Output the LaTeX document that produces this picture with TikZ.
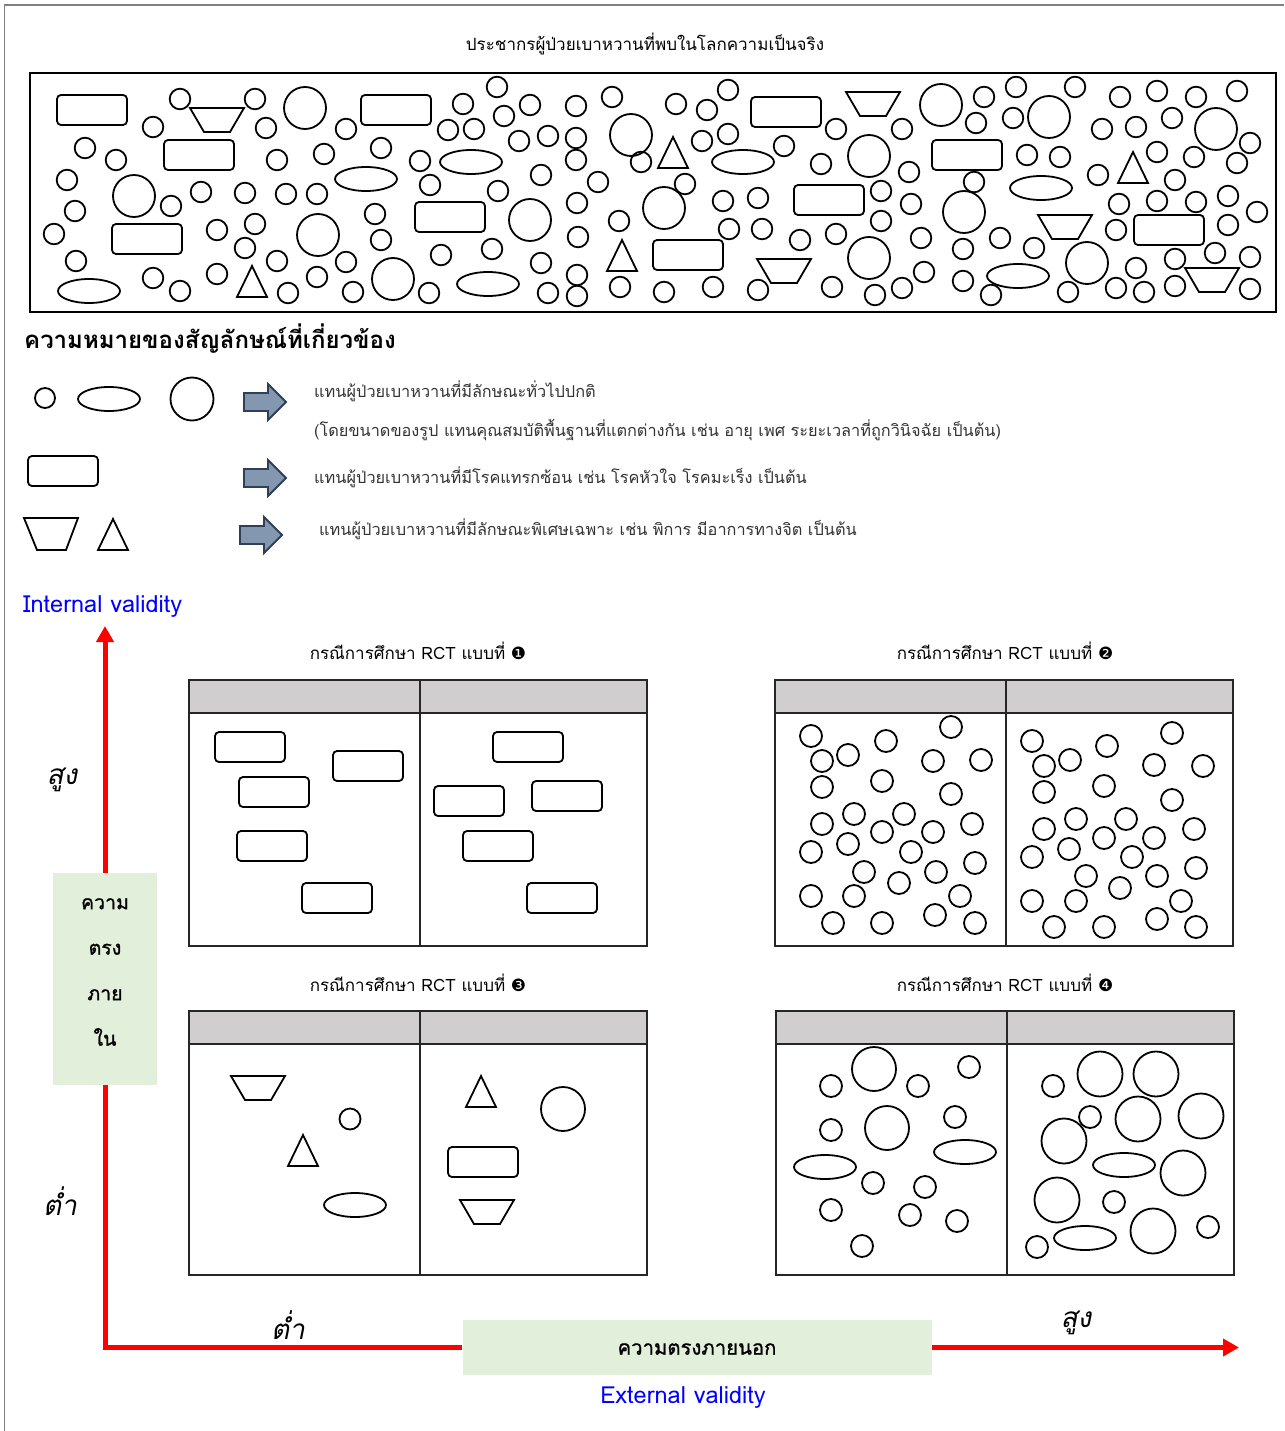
\documentclass[tikz,border=0pt]{standalone}
\usepackage{fontspec}
\usetikzlibrary{arrows.meta}
\newfontfamily\thai[Script=Thai]{Loma}
\newfontfamily\thaiheavy[Script=Thai,FakeBold=1]{Loma}
\newfontfamily\thaiobl[Script=Thai,FakeSlant=0.2]{Loma}
\newfontfamily\dingfont{DejaVu Sans}
\definecolor{hdrgray}{HTML}{D0CECE}
\definecolor{boxgreen}{HTML}{E2EFDA}
\definecolor{arrowfill}{HTML}{8497B0}
\definecolor{arrowline}{HTML}{2F3F55}
\definecolor{axisred}{HTML}{FF0000}

% shape helpers (centre or top coordinates)
\newcommand\circs[2]{\foreach \cx/\cy in {#2} \draw[shp] (\cx,\cy) circle[radius=#1];}
\newcommand\ells[1]{\foreach \cx/\cy in {#1} \draw[shp] (\cx,\cy) ellipse[x radius=31,y radius=12];}
\newcommand\rects[1]{\foreach \cx/\cy in {#1} \draw[shp,rounded corners=4] (\cx-35,\cy-15) rectangle (\cx+35,\cy+15);}
\newcommand\traps[1]{\foreach \cx/\cy in {#1} \draw[shp] (\cx-27,\cy) -- (\cx+27,\cy) -- (\cx+13,\cy+24) -- (\cx-13,\cy+24) -- cycle;}
\newcommand\tris[1]{\foreach \cx/\cy in {#1} \draw[shp] (\cx,\cy) -- (\cx+15,\cy+31) -- (\cx-15,\cy+31) -- cycle;}
\newcommand\blockarrow[2]{\draw[barrow] (#1,#2-9) -- (#1+24,#2-9) -- (#1+24,#2-18) -- (#1+42,#2) -- (#1+24,#2+18) -- (#1+24,#2+9) -- (#1,#2+9) -- cycle;}
% two-arm RCT table: left x, top y, total height
\newcommand\rcttable[3]{%
  \fill[hdrgray] (#1,#2) rectangle (#1+458,#2+33);
  \draw[tbl] (#1,#2) rectangle (#1+458,#2+#3);
  \draw[tbl] (#1+231,#2) -- (#1+231,#2+#3);
  \draw[tbl,line width=2.2] (#1,#2+33) -- (#1+458,#2+33);}

\begin{document}
\begin{tikzpicture}[x=1pt,y=-1pt,
  shp/.style={draw=black,line width=1.8},
  tbl/.style={draw=black!85,line width=1.4},
  barrow/.style={fill=arrowfill,draw=arrowline,line width=1.8,line join=miter},
  redaxis/.style={draw=axisred,line width=5,line join=miter},
  plain/.style={inner sep=0pt,font=\thai\fontsize{17}{20}\selectfont},
  legtxt/.style={inner sep=0pt,anchor=west,text=black!80,font=\thai\fontsize{16.3}{20}\selectfont},
  lowhigh/.style={inner sep=0pt,font=\thaiobl\fontsize{28}{32}\selectfont},
  bluetxt/.style={inner sep=0pt,text=blue,font=\thai\fontsize{23.5}{28}\selectfont},
  greenbox/.style={fill=boxgreen,draw=none,inner sep=0pt}]
\useasboundingbox (0,0) rectangle (1284,1431);
\fill[white] (0,0) rectangle (1284,1431);
\draw[gray,line width=1.2] (4.5,1431) -- (4.5,5) -- (1284,5);

% ---------- population ----------
\node[plain] (poptitle) at (645,44) {ประชากรผู้ป่วยเบาหวานที่พบในโลกความเป็นจริง};
\draw[line width=2.5] (30,73) rectangle (1276,312);
\circs{10.3}{180/99,255/99,497/87,463/104,530/105,576/106,612/97,153/127,266/128,346/129,448/130,474/129,504/116,519/141,548/136,576/138,85/148,116/160,277/160,324/154,381/148,420/161,576/160,67/180,171/206,201/192,245/193,286/194,317/194,430/185,541/175,498/191,577/203,598/182,75/211,54/234,217/230,255/224,375/214,381/240,578/237,619/221,76/261,245/248,277/261,346/262,441/255,492/249,541/263,577/275,577/296,620/287,153/278,180/291,217/274,288/293,317/277,353/292,429/293,548/293,641/162}
\circs{10.3}{676/104,707/110,728/90,984/97,1016/87,1075/87,1120/97,1157/91,1196/97,1237/91,1013/118,976/123,836/129,902/129,1102/129,1136/127,1172/118,1250/143,702/141,728/134,784/146,821/164,909/172,1027/155,1060/157,1157/152,1194/157,1237/163,1098/175,1175/180,974/182,685/184,723/201,758/198,881/191,911/204,1119/204,1157/201,1196/202,1228/196,1257/212,729/229,762/229,881/221,1116/230,1228/225,800/240,836/234,921/238,1000/238,1034/248,963/249,1175/259,1215/253,1250/257,924/272,963/281,1136/268,664/292,713/287,758/290,832/287,875/295,902/288,991/295,1068/292,1116/288,1144/292,1175/286,1250/289}
\circs{21}{305/108,631/135,134/196,318/235,530/220,393/279,941/105,1049/117,1216/129,869/156,664/208,964/212,869/258,1087/263}
\ells{471/162,366/179,89/291,488/284,743/162,1041/188,1018/276}
\rects{92/110,396/110,199/155,450/217,147/239,786/112,967/155,829/200,688/255,1169/230}
\traps{217/108,873/92,1065/215,784/259,1212/268}
\tris{252/266,622/240,673/137,1133/152}

% ---------- legend ----------
\node[inner sep=0pt,anchor=west,font=\thai\bfseries\fontsize{24}{28}\selectfont] (leghead) at (24,339) {ความหมายของสัญลักษณ์ที่เกี่ยวข้อง};
\circs{10}{45/398}
\ells{109/399}
\circs{21.5}{192/399}
\rects{63/471}
\draw[shp] (24,518) -- (78,518) -- (66,550) -- (37,550) -- cycle;
\draw[shp] (113,519) -- (128,550) -- (98,550) -- cycle;
\blockarrow{244}{402}
\blockarrow{244}{478}
\blockarrow{240}{535}
\node[legtxt] (leg1) at (314,391) {แทนผู้ป่วยเบาหวานที่มีลักษณะทั่วไปปกติ};
\node[legtxt] (leg1b) at (314,430) {(โดยขนาดของรูป แทนคุณสมบัติพื้นฐานที่แตกต่างกัน เช่น อายุ เพศ ระยะเวลาที่ถูกวินิจฉัย เป็นต้น)};
\node[legtxt] (leg2) at (314,477) {แทนผู้ป่วยเบาหวานที่มีโรคแทรกซ้อน เช่น โรคหัวใจ โรคมะเร็ง เป็นต้น};
\node[legtxt] (leg3) at (319,529) {แทนผู้ป่วยเบาหวานที่มีลักษณะพิเศษเฉพาะ เช่น พิการ มีอาการทางจิต เป็นต้น};

% ---------- RCT case 1 ----------
\node[plain] (case1) at (418,651) {กรณีการศึกษา RCT แบบที่ {\dingfont ❶}};
\rcttable{189}{680}{266}
\rects{250/747,368/766,274/792,272/846,337/898}
\rects{528/747,469/801,567/796,498/846,562/898}

% ---------- RCT case 2 ----------
\node[plain] (case2) at (1005,651) {กรณีการศึกษา RCT แบบที่ {\dingfont ❷}};
\rcttable{775}{680}{266}
\circs{11}{811/736,886/741,951/727,822/761,848/755,933/761,981/760,822/787,882/781,951/794,822/824,854/814,904/814,882/832,933/832,972/824,811/852,848/844,911/852,864/872,899/883,936/872,975/863,811/896,854/896,960/896,833/923,882/923,935/915,975/923}
\circs{11}{1032/741,1107/746,1172/733,1044/766,1070/760,1154/765,1203/766,1044/792,1104/786,1172/800,1044/829,1076/819,1126/819,1104/838,1154/838,1194/829,1032/857,1069/849,1132/857,1086/876,1120/888,1157/876,1196/868,1032/901,1076/901,1181/901,1054/927,1104/927,1157/919,1196/927}

% ---------- RCT case 3 ----------
\node[plain] (case3) at (418,983) {กรณีการศึกษา RCT แบบที่ {\dingfont ❸}};
\rcttable{189}{1011}{264}
\traps{258/1076}
\circs{10.5}{350/1119}
\tris{303/1135}
\ells{355/1205}
\tris{481/1076}
\circs{22}{563/1109}
\rects{483/1162}
\traps{487/1200}

% ---------- RCT case 4 ----------
\node[plain] (case4) at (1005,983) {กรณีการศึกษา RCT แบบที่ {\dingfont ❹}};
\rcttable{776}{1011}{264}
\circs{11}{831/1086,918/1086,969/1067,831/1130,955/1117,873/1183,925/1187,831/1210,910/1215,957/1221,862/1246}
\circs{22}{874/1069,887/1128}
\ells{965/1152,825/1167}
\circs{11}{1053/1086,1090/1117,1114/1202,1208/1227,1037/1247}
\circs{22.5}{1100/1074,1156/1074,1138/1119,1201/1116,1064/1141,1183/1173,1057/1200,1153/1231}
\ells{1124/1165,1085/1238}

% ---------- validity axes ----------
\node[bluetxt,anchor=west] (intval) at (23,607) {Internal validity};
\node[greenbox,minimum width=104,minimum height=212] (ivbox) at (105,979) {};
\node[inner sep=0pt,align=center,font=\thaiheavy\fontsize{19.5}{45.5}\selectfont] (ivtext) at (105,972) {ความ\\ตรง\\ภาย\\ใน};
\node[greenbox,minimum width=469,minimum height=55] (evbox) at (697,1347.5) {};
\node[inner sep=0pt,font=\thaiheavy\fontsize{20.3}{24}\selectfont] (evtext) at (697,1349) {ความตรงภายนอก};
\node[bluetxt] (extval) at (683,1398) {External validity};
\coordinate (ytip) at (105,626);
\coordinate (xtip) at (1239,1347.5);
\draw[redaxis,-{Triangle[length=16,width=17]}] (ivbox.north) -- (ytip);
\draw[redaxis] (ivbox.south) |- (evbox.west);
\draw[redaxis,-{Triangle[length=16,width=17]}] (evbox.east) -- (xtip);
\node[lowhigh] (yhigh) at (62,780) {สูง};
\node[lowhigh] (ylow) at (60,1201) {ต่ำ};
\node[lowhigh] (xlow) at (288,1325) {ต่ำ};
\node[lowhigh] (xhigh) at (1076,1323) {สูง};
\end{tikzpicture}
\end{document}
